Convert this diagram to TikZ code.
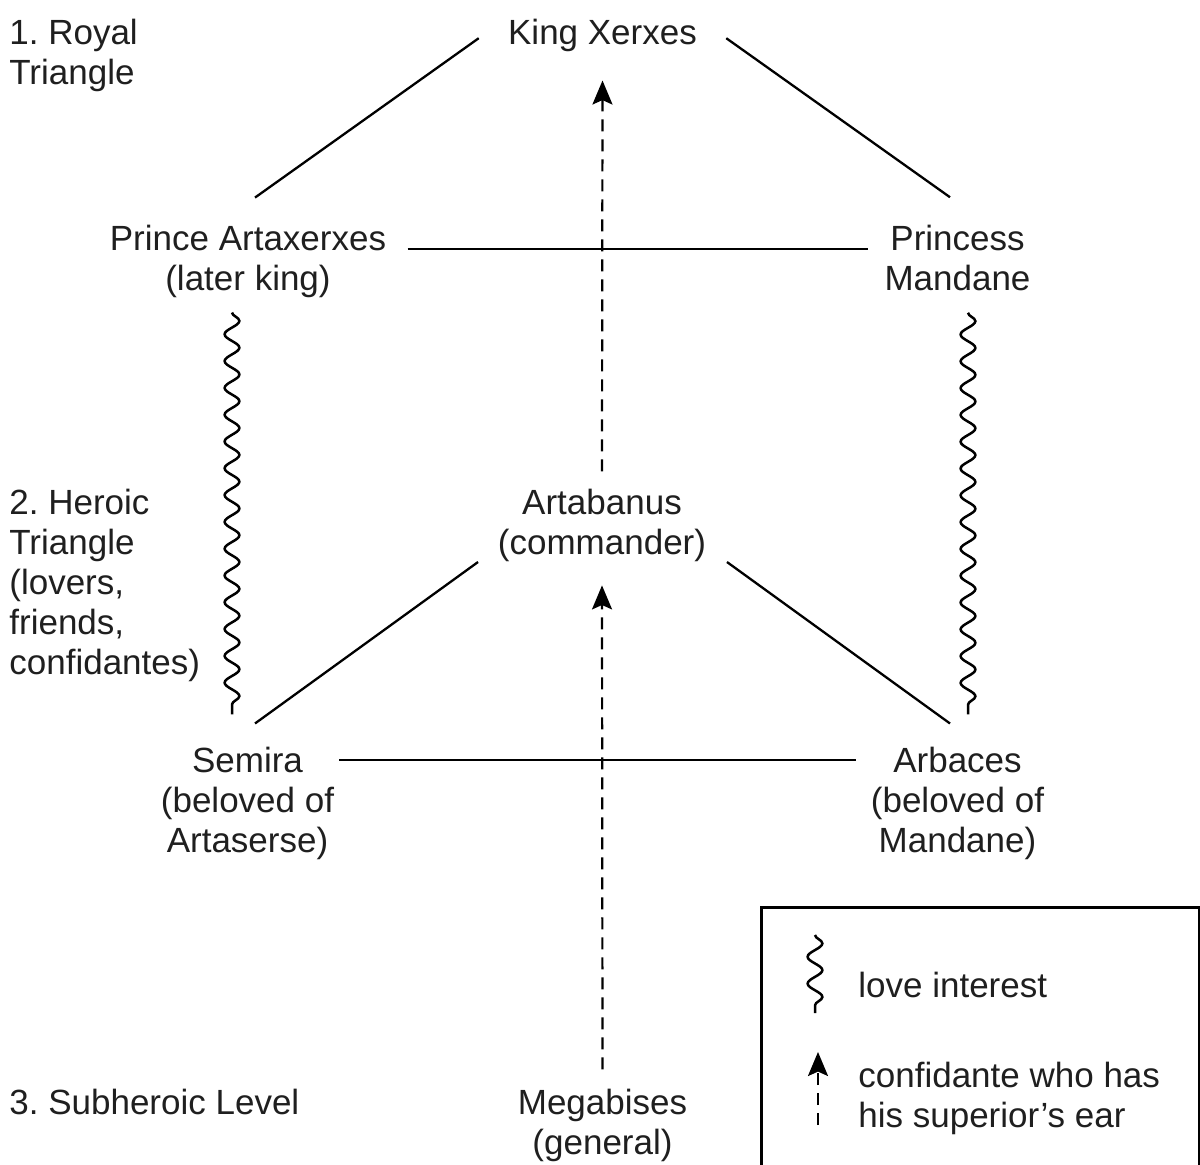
\documentclass[tikz,border=0pt]{standalone}
\usepackage{fontspec}
\setmainfont{Liberation Sans}
\usetikzlibrary{decorations.pathmorphing,arrows.meta,calc}
\frenchspacing
\begin{document}
\begin{tikzpicture}[x=0.5pt,y=-0.5pt,
  lbl/.style={inner sep=0pt, align=center, font=\frenchspacing\fontsize{17.5}{20}\selectfont, text=black!88},
  side/.style={lbl, align=left, anchor=west},
  tie/.style={line width=1.15pt},
  love/.style={line width=1.25pt, decorate, decoration={snake, segment length=13.4pt, amplitude=3.7pt}},
  ear/.style={line width=1.1pt, dash pattern=on 6pt off 4pt, -{Stealth[length=12pt,width=10pt,inset=2.2pt]}},
]
\useasboundingbox (0,0) rectangle (1200,1165);

% main nodes
\node[lbl] (king) at (602.5,35.2) {King Xerxes};
\node[lbl] (prince) at (248,261.8) {Prince Artaxerxes\\(later king)};
\node[lbl] (princess) at (957.5,258) {Princess\\Mandane};
\node[lbl] (artabanus) at (602,525.7) {Artabanus\\(commander)};
\node[lbl] (semira) at (247.5,803.7) {Semira\\(beloved of\\Artaserse)};
\node[lbl] (arbaces) at (957.5,803.7) {Arbaces\\(beloved of\\Mandane)};
\node[lbl] (megabises) at (602.5,1125.7) {Megabises\\(general)};

% level labels
\node[side] (royal) at (9,55.5) {1. Royal\\Triangle};
\node[side] (heroic) at (9,585.7) {2. Heroic\\Triangle\\(lovers,\\friends,\\confidantes)};
\node[side] (subheroic) at (9,1102) {3. Subheroic Level};

% royal triangle
\draw[tie] ($(king.west)+(-29,3)$) -- ($(prince.north)+(7,-27.5)$);
\draw[tie] ($(king.east)+(29,3)$) -- ($(princess.north)+(-7.5,-27.5)$);
\draw[tie] ($(prince.east)+(21,-12.8)$) -- ($(princess.west)+(-16.5,-9)$);

% heroic triangle
\draw[tie] ($(artabanus.west)+(-19.5,36.3)$) -- ($(semira.north)+(7.5,-23.5)$);
\draw[tie] ($(artabanus.east)+(20.5,36.3)$) -- ($(arbaces.north)+(-7.5,-23.5)$);
\draw[tie] ($(semira.east)+(5,-43.7)$) -- ($(arbaces.west)+(-15,-43.7)$);

% confidante arrows
\draw[ear] ($(artabanus.north)+(0,-17.5)$) -- ($(king.south)+(0,28.6)$);
\draw[ear] ($(megabises.north)+(0,-19.5)$) -- ($(artabanus.south)+(0,23)$);

% love interests
\draw[love] ($(prince.south)+(-16,14)$) -- ($(semira.north)+(-15.5,-32.5)$);
\draw[love] ($(princess.south)+(10.5,21.5)$) -- ($(arbaces.north)+(10.5,-32.5)$);

% legend
\draw[line width=1.5pt] (761,907) rectangle (1199,1166);
\node[side] (lovetxt) at (858,985) {love interest};
\node[side] (conftxt) at (858,1098.5) {confidante who has\\his superior’s ear};
\coordinate (lw1) at (815,935);
\coordinate (lw2) at (815,1013);
\draw[love] (lw1) -- (lw2);
\coordinate (la1) at (818,1125);
\coordinate (la2) at (818,1052);
\draw[ear] (la1) -- (la2);
\end{tikzpicture}
\end{document}
